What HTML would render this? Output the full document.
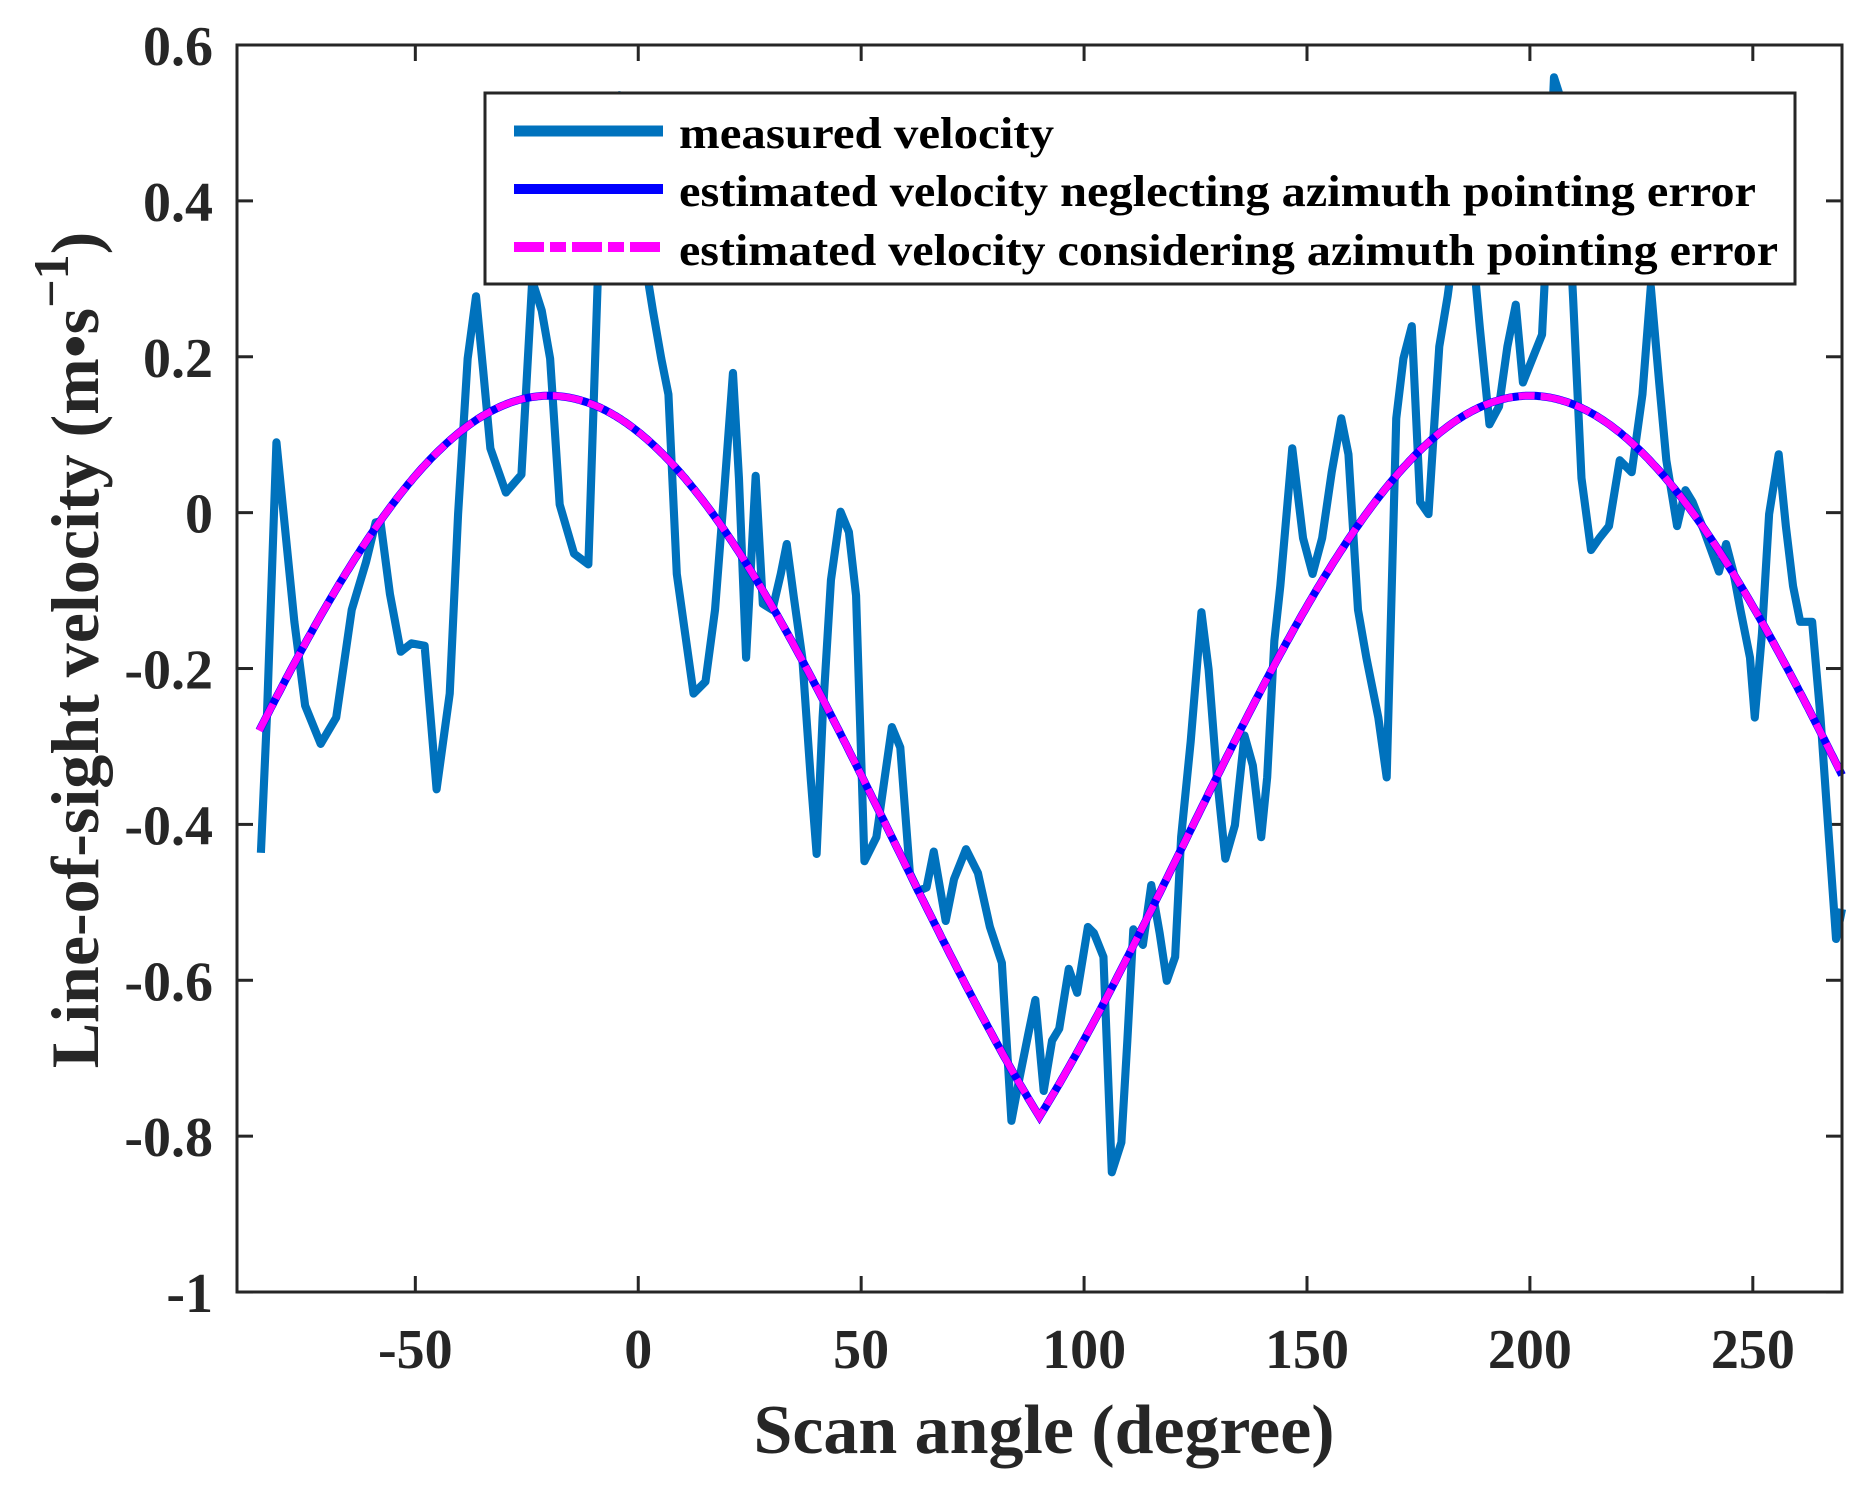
<!DOCTYPE html>
<html><head><meta charset="utf-8"><style>html,body{margin:0;padding:0;background:#fff}svg{display:block}text{font-family:"Liberation Serif",serif;font-weight:bold;fill:#262626}</style></head>
<body>
<svg id="s" width="1875" height="1489" viewBox="0 0 1875 1489" xmlns="http://www.w3.org/2000/svg">
<rect width="1875" height="1489" fill="#fff"/>
<g id="ticks" stroke="#262626" stroke-width="3"></g>
<g transform="translate(237,45) scale(1.1951,1.1967) translate(-200,-38)">
<polyline fill="none" stroke="#0072BD" stroke-width="6.8" stroke-linejoin="round" points="220,713 225,600 233,370 240,440 248,520 257,590 270,622 283,600 296,510 308,470 316,437 320,436 328,497 337,545 346,538 357,540 367,660 378,580 385,430 393,300 400,248 406,310 412,375 425,412 438,397 447,235 455,260 462,300 470,422 482,463 494,472 502,230 508,130 520,80 530,150 540,210 548,260 555,300 561,330 568,480 575,530 582,580 592,570 600,510 607,420 615,312 620,400 626,550 634,398 640,505 648,510 655,480 660,455 666,500 673,550 680,650 685,714 690,600 697,485 705,428 712,445 718,498 725,720 735,700 742,650 748,608 755,625 763,730 770,745 777,742 783,712 793,770 800,735 810,710 820,730 830,775 840,805 848,937 855,900 862,865 868,836 875,912 882,870 888,860 896,810 903,830 912,775 917,780 925,800 932,980 940,955 945,870 950,777 958,790 965,740 972,780 978,820 985,800 990,700 998,620 1007,512 1013,560 1020,650 1027,718 1035,690 1043,615 1050,640 1057,700 1062,650 1068,536 1073,490 1083,375 1092,450 1100,480 1108,450 1116,395 1124,350 1130,380 1138,510 1145,550 1155,600 1162,650 1170,350 1176,300 1183,273 1190,420 1197,430 1206,290 1213,248 1222,180 1230,165 1240,275 1248,355 1256,340 1263,290 1270,255 1276,320 1284,300 1292,280 1297,180 1302,65 1310,90 1318,250 1325,400 1333,460 1340,450 1348,440 1357,385 1367,395 1376,330 1383,240 1390,320 1396,385 1405,440 1412,410 1418,420 1428,445 1440,478 1446,455 1452,478 1458,510 1466,550 1470,600 1476,530 1482,430 1490,380 1496,440 1502,490 1508,520 1518,520 1525,600 1532,700 1538,785 1543,760"/>
</g>
<path id="blue" fill="none" stroke="#0000FF" stroke-width="8"/>
<path id="mag" fill="none" stroke="#FF00FF" stroke-width="7" stroke-dasharray="30,6,16,6"/>
<rect x="237" y="45" width="1605" height="1247" fill="none" stroke="#262626" stroke-width="3"/>
<g id="labels"></g>
<rect x="485" y="93" width="1310" height="191" fill="#fff" stroke="#262626" stroke-width="3"/>
<line x1="514" y1="131" x2="663" y2="131" stroke="#0072BD" stroke-width="11"/>
<line x1="514" y1="189" x2="663" y2="189" stroke="#0000FF" stroke-width="10"/>
<line x1="514" y1="247" x2="663" y2="247" stroke="#FF00FF" stroke-width="10" stroke-dasharray="30,6,16,6"/>
<text x="679" y="148" font-size="44" style="fill:#000" textLength="375" lengthAdjust="spacingAndGlyphs">measured velocity</text>
<text x="679" y="206" font-size="44" style="fill:#000" textLength="1077" lengthAdjust="spacingAndGlyphs">estimated velocity neglecting azimuth pointing error</text>
<text x="679" y="265" font-size="44" style="fill:#000" textLength="1099" lengthAdjust="spacingAndGlyphs">estimated velocity considering azimuth pointing error</text>
<text x="1044" y="1453" font-size="70" text-anchor="middle" textLength="581" lengthAdjust="spacingAndGlyphs">Scan angle (degree)</text>
<text transform="translate(98,650) rotate(-90)" font-size="68" text-anchor="middle">Line-of-sight velocity (m•s<tspan font-size="50" dy="-30">−1</tspan><tspan dy="30">)</tspan></text>
</svg>
<script>
var X=function(d){return 237+(d+90)*4.4583;},Y=function(v){return 45+(0.6-v)*779.4;};
var k=1.16,c0=Math.cos(110*k*Math.PI/180),A=0.925/(1-c0),C=0.15-A;
var p="";for(var d=-85;d<=270;d+=0.5){var a=Math.abs(d-90);var v=A*Math.cos(k*(a-110)*Math.PI/180)+C;p+=(p?"L":"M")+X(d).toFixed(1)+","+Y(v).toFixed(1);}
document.getElementById("blue").setAttribute("d",p);document.getElementById("mag").setAttribute("d",p);
var t="",l="";
[-50,0,50,100,150,200,250].forEach(function(d){var x=X(d);t+='<line x1="'+x+'" y1="1292" x2="'+x+'" y2="1276"/><line x1="'+x+'" y1="45" x2="'+x+'" y2="61"/>';l+='<text x="'+x+'" y="1368" font-size="56" text-anchor="middle">'+d+'</text>';});
[0.6,0.4,0.2,0,-0.2,-0.4,-0.6,-0.8,-1].forEach(function(v){var y=Y(v);t+='<line x1="237" y1="'+y+'" x2="253" y2="'+y+'"/><line x1="1842" y1="'+y+'" x2="1826" y2="'+y+'"/>';l+='<text x="213" y="'+(y+20)+'" font-size="56" text-anchor="end">'+v+'</text>';});
document.getElementById("ticks").innerHTML=t;document.getElementById("labels").innerHTML=l;
</script>
</body></html>
